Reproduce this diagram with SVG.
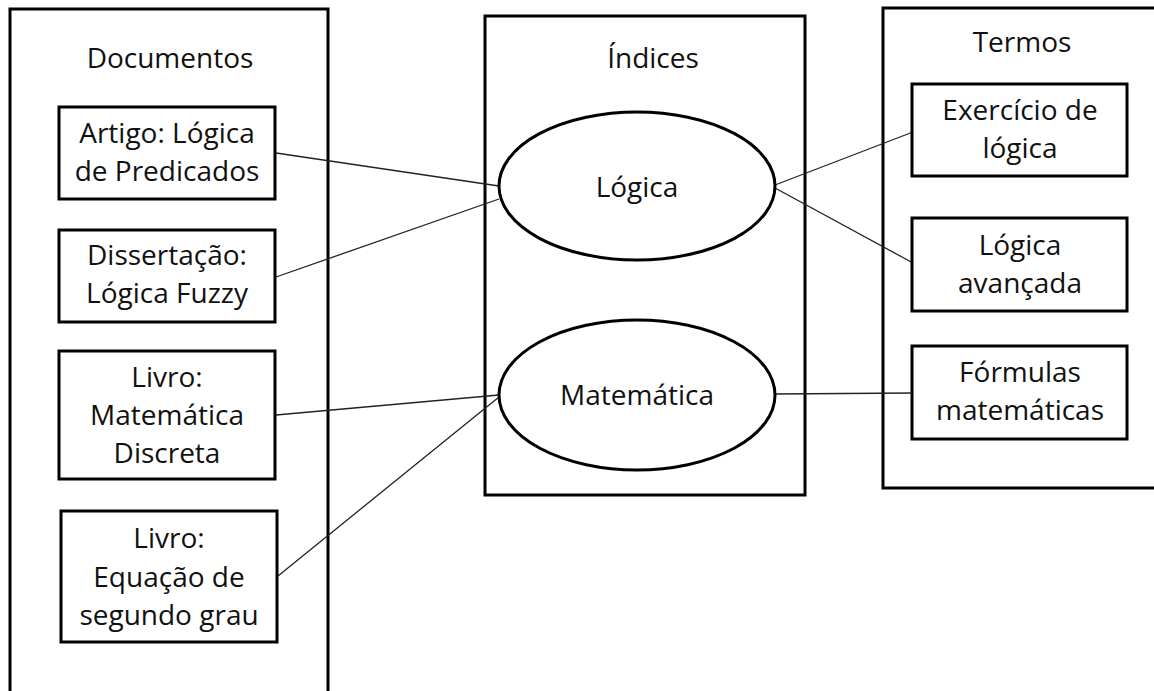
<svg xmlns="http://www.w3.org/2000/svg" width="1154" height="691" viewBox="0 0 1154 691">
  <style>
    .frame { fill: #fff; stroke: #000; stroke-width: 3; }
    .box { fill: #fff; stroke: #000; stroke-width: 3; }
    .idx { fill: #fff; stroke: #000; stroke-width: 3; }
    .link { stroke: #222; stroke-width: 1.3; fill: none; }
    text { font-family: "Open Sans", "Liberation Sans", sans-serif; font-size: 28px; fill: #111; text-anchor: middle; }
  </style>
  <rect width="1154" height="691" fill="#fff"/>

  <!-- column frames -->
  <g id="documentos">
    <rect class="frame" x="10" y="9" width="318" height="700"/>
    <text x="170" y="68">Documentos</text>
  </g>
  <g id="indices">
    <rect class="frame" x="485" y="16" width="320" height="479"/>
    <text x="653" y="68">Índices</text>
  </g>
  <g id="termos">
    <rect class="frame" x="883" y="8" width="290" height="480"/>
    <text x="1022" y="52">Termos</text>
  </g>

  <!-- connectors -->
  <g id="connectors">
    <line class="link" x1="276" y1="153" x2="499" y2="186"/>
    <line class="link" x1="276" y1="277" x2="499" y2="199"/>
    <line class="link" x1="276" y1="415" x2="499" y2="395"/>
    <line class="link" x1="278" y1="576" x2="499" y2="397"/>
    <line class="link" x1="775" y1="185" x2="913" y2="132"/>
    <line class="link" x1="775" y1="188" x2="913" y2="263"/>
    <line class="link" x1="775" y1="394" x2="913" y2="393"/>
  </g>

  <!-- document nodes -->
  <g id="doc-artigo">
    <rect class="box" x="59" y="107" width="216" height="92"/>
    <text x="167" y="143">Artigo: Lógica</text>
    <text x="167" y="181">de Predicados</text>
  </g>
  <g id="doc-dissertacao">
    <rect class="box" x="59" y="230" width="216" height="92"/>
    <text x="167" y="265">Dissertação:</text>
    <text x="167" y="303">Lógica Fuzzy</text>
  </g>
  <g id="doc-livro-discreta">
    <rect class="box" x="59" y="351" width="216" height="128"/>
    <text x="167" y="387">Livro:</text>
    <text x="167" y="425">Matemática</text>
    <text x="167" y="463">Discreta</text>
  </g>
  <g id="doc-livro-equacao">
    <rect class="box" x="61" y="511" width="216" height="131"/>
    <text x="169" y="548">Livro:</text>
    <text x="169" y="587">Equação de</text>
    <text x="169" y="625">segundo grau</text>
  </g>

  <!-- index nodes -->
  <g id="idx-logica">
    <ellipse class="idx" cx="637" cy="186" rx="138" ry="74"/>
    <text x="637" y="197">Lógica</text>
  </g>
  <g id="idx-matematica">
    <ellipse class="idx" cx="637" cy="395" rx="138" ry="75"/>
    <text x="637" y="405">Matemática</text>
  </g>

  <!-- term nodes -->
  <g id="termo-exercicio">
    <rect class="box" x="912" y="84" width="215" height="92"/>
    <text x="1020" y="120">Exercício de</text>
    <text x="1020" y="158">lógica</text>
  </g>
  <g id="termo-avancada">
    <rect class="box" x="912" y="218" width="215" height="93"/>
    <text x="1020" y="255">Lógica</text>
    <text x="1020" y="293">avançada</text>
  </g>
  <g id="termo-formulas">
    <rect class="box" x="912" y="346" width="215" height="93"/>
    <text x="1020" y="382">Fórmulas</text>
    <text x="1020" y="420">matemáticas</text>
  </g>
</svg>
